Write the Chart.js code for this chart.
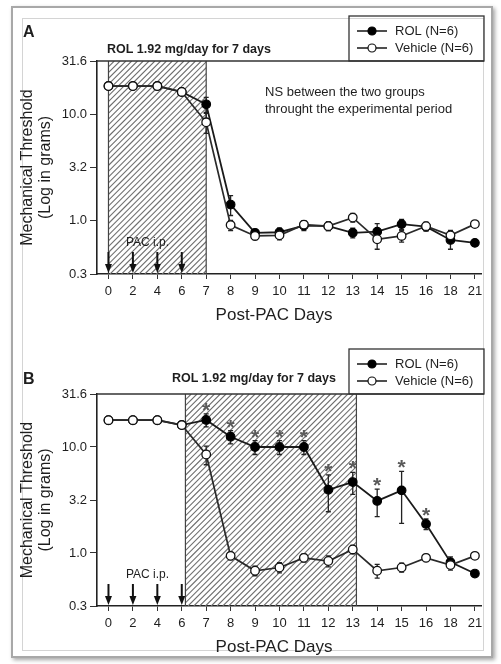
<!DOCTYPE html>
<html><head><meta charset="utf-8">
<script src="https://cdn.jsdelivr.net/npm/chart.js@4.4.1/dist/chart.umd.min.js"></script>
<style>
html,body{margin:0;padding:0;background:#fff;}
#wrap{position:relative;width:501px;height:664px;overflow:hidden;background:#fff;}
.outer{position:absolute;left:11px;top:6px;width:478px;height:648px;border:2px solid #a8a8a8;box-shadow:2px 2px 4px rgba(0,0,0,0.35);}
.inner{position:absolute;left:22px;top:18px;width:460px;height:631px;border:1px solid #d4d4d4;}
canvas{position:absolute;left:0;}
#cA{top:0;} #cB{top:332px;}
</style></head><body>
<div id="wrap"><div class="outer"></div><div class="inner"></div>
<canvas id="cA" width="501" height="332"></canvas>
<canvas id="cB" width="501" height="332"></canvas></div>
<script>
// ---------- data ----------
const days = ['0','2','4','6','7','8','9','10','11','12','13','14','15','16','18','21'];
const yTickValues = [0.3162, 1, 3.162, 10, 31.62];
const yTickLabels = ['0.3','1.0','3.2','10.0','31.6'];
const seriesNames = ['ROL (N=6)', 'Vehicle (N=6)'];

// Panel A
const rolA    = [18.4,18.4,18.4,16.2,12.4,1.42,0.77,0.78,0.90,0.89,0.77,0.79,0.93,0.88,0.66,0.62];
const vehA    = [18.4,18.4,18.4,16.2,8.4,0.91,0.72,0.73,0.92,0.89,1.07,0.67,0.72,0.89,0.73,0.93];
const rolErrA = [0,0,0,0.6,2.0,0.3,0.06,0.07,0.09,0.08,0.08,0.15,0.1,0.08,0.12,0.04];
const vehErrA = [0,0,0,0.6,1.8,0.1,0.06,0.07,0.08,0.08,0.1,0.13,0.09,0.08,0.08,0.06];
const treatA  = [0, 4];        // category index span of the ROL treatment (hatched)
const sigA    = [];

// Panel B
const rolB    = [17.9,17.9,17.9,16.1,18.0,12.5,10.0,10.0,10.0,3.95,4.67,3.1,3.9,1.88,0.82,0.64];
const vehB    = [17.9,17.9,17.9,16.1,8.5,0.94,0.68,0.73,0.90,0.84,1.08,0.68,0.73,0.90,0.77,0.94];
const rolErrB = [0,0,0,0.5,2.5,1.8,1.5,1.5,1.5,1.5,1.1,0.9,2.0,0.22,0.1,0.04];
const vehErrB = [0,0,0,0.5,1.7,0.08,0.07,0.08,0.08,0.1,0.1,0.1,0.07,0.07,0.08,0.06];
const treatB  = [3.15, 10.15];
const sigB    = [4,5,6,7,8,9,10,11,12,13];

const pacDays = [0,1,2,3];     // category indices of PAC i.p. injections

// ---------- drawing ----------
const FONT = "'Liberation Sans', Arial, sans-serif";
const INK = '#1e1e1e';

function makePanel(canvasId, cfg) {
  const decor = {
    id: 'decor' + canvasId,
    beforeDatasetsDraw(chart) {
      const {ctx, chartArea: a, scales: {x, y}} = chart;
      // hatched treatment period
      const x0 = x.getPixelForValue(cfg.treat[0]), x1 = x.getPixelForValue(cfg.treat[1]);
      const h = a.bottom - a.top;
      ctx.save();
      ctx.beginPath(); ctx.rect(x0, a.top, x1 - x0, h); ctx.clip();
      ctx.strokeStyle = '#707070'; ctx.lineWidth = 1.1;
      ctx.beginPath();
      for (let s = x0 - h; s < x1 + 2; s += 5.8) { ctx.moveTo(s, a.bottom); ctx.lineTo(s + h, a.top); }
      ctx.stroke();
      ctx.restore();
      ctx.save();
      ctx.strokeStyle = '#444'; ctx.lineWidth = 1.2;
      ctx.beginPath();
      ctx.moveTo(x0, a.top); ctx.lineTo(x0, a.bottom);
      ctx.moveTo(x1, a.top); ctx.lineTo(x1, a.bottom);
      ctx.stroke();
      ctx.restore();
      // PAC i.p. arrows
      ctx.save();
      ctx.strokeStyle = '#111'; ctx.fillStyle = '#111'; ctx.lineWidth = 2;
      pacDays.forEach(i => {
        const px = x.getPixelForValue(i);
        ctx.beginPath(); ctx.moveTo(px, a.bottom - 22); ctx.lineTo(px, a.bottom - 6); ctx.stroke();
        ctx.beginPath(); ctx.moveTo(px - 3.5, a.bottom - 10); ctx.lineTo(px + 3.5, a.bottom - 10); ctx.lineTo(px, a.bottom - 1); ctx.closePath(); ctx.fill();
      });
      ctx.restore();
      // error bars
      ctx.save();
      ctx.strokeStyle = '#222'; ctx.lineWidth = 1.3;
      chart.data.datasets.forEach((ds, di) => {
        const meta = chart.getDatasetMeta(di);
        cfg.err[di].forEach((e, i) => {
          if (!e) return;
          const p = meta.data[i]; const v = ds.data[i].y;
          const yt = y.getPixelForValue(v + e), yb = y.getPixelForValue(Math.max(v - e, 0.33));
          ctx.beginPath();
          ctx.moveTo(p.x, yt); ctx.lineTo(p.x, yb);
          ctx.moveTo(p.x - 2.5, yt); ctx.lineTo(p.x + 2.5, yt);
          ctx.moveTo(p.x - 2.5, yb); ctx.lineTo(p.x + 2.5, yb);
          ctx.stroke();
        });
      });
      ctx.restore();
    },
    afterDatasetsDraw(chart) {
      const {ctx, scales: {y}} = chart;
      const meta = chart.getDatasetMeta(0);
      ctx.save();
      ctx.fillStyle = '#5a5a5a'; ctx.font = 'bold 21px ' + FONT;
      ctx.textAlign = 'center'; ctx.textBaseline = 'alphabetic';
      cfg.sig.forEach(i => {
        const v = chart.data.datasets[0].data[i].y;
        const yt = y.getPixelForValue(v + cfg.err[0][i]);
        ctx.fillText('*', meta.data[i].x, yt + 3);
      });
      ctx.restore();
    },
    afterDraw(chart) {
      const {ctx, chartArea: a} = chart;
      ctx.save();
      // top frame line of the plot
      const rx = a.right + 3;
      ctx.strokeStyle = '#333'; ctx.lineWidth = 1.5;
      ctx.beginPath(); ctx.moveTo(a.left, a.top); ctx.lineTo(rx, a.top); ctx.stroke();
      // legend box
      const lx = rx - 135, ty = a.top - 45;
      ctx.lineWidth = 1.3;
      ctx.strokeRect(lx, ty, rx - lx, a.top - ty);
      chart.data.datasets.forEach((d, k) => {
        const yy = a.top - 30 + k * 17;
        ctx.strokeStyle = '#222'; ctx.lineWidth = 1.6;
        ctx.beginPath(); ctx.moveTo(lx + 8, yy); ctx.lineTo(lx + 38, yy); ctx.stroke();
        ctx.beginPath(); ctx.arc(lx + 23, yy, 4, 0, Math.PI * 2);
        ctx.fillStyle = d.pointBackgroundColor; ctx.fill();
        ctx.strokeStyle = d.pointBorderColor; ctx.lineWidth = 1.2; ctx.stroke();
        ctx.fillStyle = INK; ctx.font = '13px ' + FONT;
        ctx.textAlign = 'left'; ctx.textBaseline = 'middle';
        ctx.fillText(d.label, lx + 46, yy);
      });
      // panel letter
      ctx.fillStyle = INK; ctx.font = 'bold 16px ' + FONT;
      ctx.textAlign = 'left'; ctx.textBaseline = 'middle';
      ctx.fillText(cfg.letter, 23, cfg.letterY);
      // treatment text
      ctx.font = 'bold 12.5px ' + FONT;
      ctx.fillText('ROL 1.92 mg/day for 7 days', cfg.treatTextX, cfg.treatTextY);
      // notes
      ctx.font = '13px ' + FONT;
      cfg.notes.forEach((t, k) => ctx.fillText(t, 265, 92 + k * 17));
      // PAC i.p. label
      ctx.textAlign = 'center';
      ctx.font = '12px ' + FONT;
      ctx.fillText('PAC i.p.', chart.scales.x.getPixelForValue(1.6), a.bottom - 31);
      // x axis title
      ctx.font = '17px ' + FONT;
      ctx.fillText('Post-PAC Days', (a.left + a.right) / 2 - 15, a.bottom + 41);
      ctx.restore();
    }
  };

  return new Chart(document.getElementById(canvasId), {
    type: 'line',
    data: {
      datasets: [
        { label: seriesNames[0], data: cfg.rol.map((v, i) => ({x: i, y: v})),
          borderColor: '#1a1a1a', borderWidth: 1.8, pointRadius: 4.3, pointBackgroundColor: '#000',
          pointBorderColor: '#000', pointBorderWidth: 1.2, order: 1, tension: 0 },
        { label: seriesNames[1], data: cfg.veh.map((v, i) => ({x: i, y: v})),
          borderColor: '#2a2a2a', borderWidth: 1.7, pointRadius: 4.3, pointBackgroundColor: '#fff',
          pointBorderColor: '#111', pointBorderWidth: 1.3, order: 0, tension: 0 }
      ]
    },
    options: {
      responsive: false, animation: false, devicePixelRatio: 1,
      layout: { padding: { top: cfg.padTop, right: 20, left: 0, bottom: 0 } },
      plugins: { legend: { display: false }, tooltip: { enabled: false } },
      scales: {
        x: {
          type: 'linear', min: -0.47, max: 15.25, bounds: 'data',
          afterBuildTicks: s => { s.ticks = days.map((_, i) => ({value: i})); },
          afterFit: s => { s.height = 58; },
          ticks: { autoSkip: false, maxRotation: 0, minRotation: 0, padding: 5, color: INK,
                   font: { family: FONT, size: 13 }, callback: v => days[v] },
          grid: { display: true, drawOnChartArea: false, drawTicks: true, tickLength: 5, color: '#333', lineWidth: 1 },
          border: { display: true, color: '#222', width: 1.6 }
        },
        y: {
          type: 'logarithmic', min: yTickValues[0], max: yTickValues[yTickValues.length - 1], bounds: 'data',
          afterBuildTicks: s => { s.ticks = yTickValues.map(v => ({value: v})); },
          afterFit: s => { s.width = 97; },
          ticks: { padding: 3, color: INK, font: { family: FONT, size: 13 }, callback: (v, i) => yTickLabels[i] },
          grid: { display: true, drawOnChartArea: false, drawTicks: true, tickLength: 7, color: '#333', lineWidth: 1 },
          border: { display: true, color: '#222', width: 1.6 },
          title: { display: true, text: ['Mechanical Threshold', '(Log in grams)'], color: INK,
                   font: { family: FONT, size: 16, lineHeight: 1.15 }, padding: { top: 18, bottom: 0 } }
        }
      }
    },
    plugins: [decor]
  });
}

makePanel('cA', { rol: rolA, veh: vehA, err: [rolErrA, vehErrA], treat: treatA, sig: sigA,
  padTop: 61, letter: 'A', letterY: 33, treatTextX: 107, treatTextY: 50,
  notes: ['NS between the two groups', 'throught the experimental period'] });
makePanel('cB', { rol: rolB, veh: vehB, err: [rolErrB, vehErrB], treat: treatB, sig: sigB,
  padTop: 62, letter: 'B', letterY: 48, treatTextX: 172, treatTextY: 47, notes: [] });
</script>
</body></html>
